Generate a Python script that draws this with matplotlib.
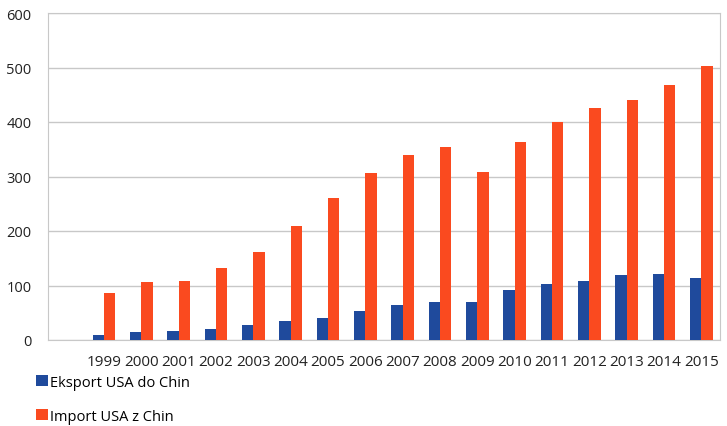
import numpy as np
import matplotlib.pyplot as plt

years = ['', '1999', '2000', '2001', '2002', '2003', '2004', '2005', '2006', '2007',
         '2008', '2009', '2010', '2011', '2012', '2013', '2014', '2015']
eksport = [0, 10, 15, 17, 20, 28, 34, 41, 54, 64, 70, 69, 91, 103, 109, 120, 122, 114]
import_ = [0, 86, 106, 108, 132, 161, 209, 260, 306, 340, 355, 309, 364, 400, 426, 440, 467, 502]

plt.rcParams['font.family'] = ['Open Sans', 'DejaVu Sans']

fig = plt.figure(figsize=(7.27, 4.27), dpi=100)
ax = fig.add_axes([48 / 727, 1 - 341 / 427, 672 / 727, 327 / 427])

x = np.arange(len(years))
w = 0.3
ax.bar(x - w / 2, eksport, w, color='#1f4a9c', label='Eksport USA do Chin', zorder=3)
ax.bar(x + w / 2, import_, w, color='#fa4a1f', label='Import USA z Chin', zorder=3)

ax.set_xlim(-0.5, len(years) - 0.5)
ax.set_ylim(0, 600)
ax.set_yticks(range(0, 601, 100))
ax.set_xticks(x)
ax.set_xticklabels(years)
ax.tick_params(length=0, labelsize=10.5, colors='#222222')
ax.tick_params(axis='x', pad=10, labelsize=11)
ax.tick_params(axis='y', pad=12)
ax.grid(axis='y', color='#c8c8c8', linewidth=1, zorder=0)
for s in ax.spines.values():
    s.set_color('#c8c8c8')

fig.legend(loc='upper left', bbox_to_anchor=(30 / 727, 1 - 370 / 427), frameon=False,
           fontsize=10.5, handlelength=0.8, handleheight=0.8, handletextpad=0.2,
           labelspacing=1.3, borderaxespad=0)

fig.savefig('out.png', dpi=100)
